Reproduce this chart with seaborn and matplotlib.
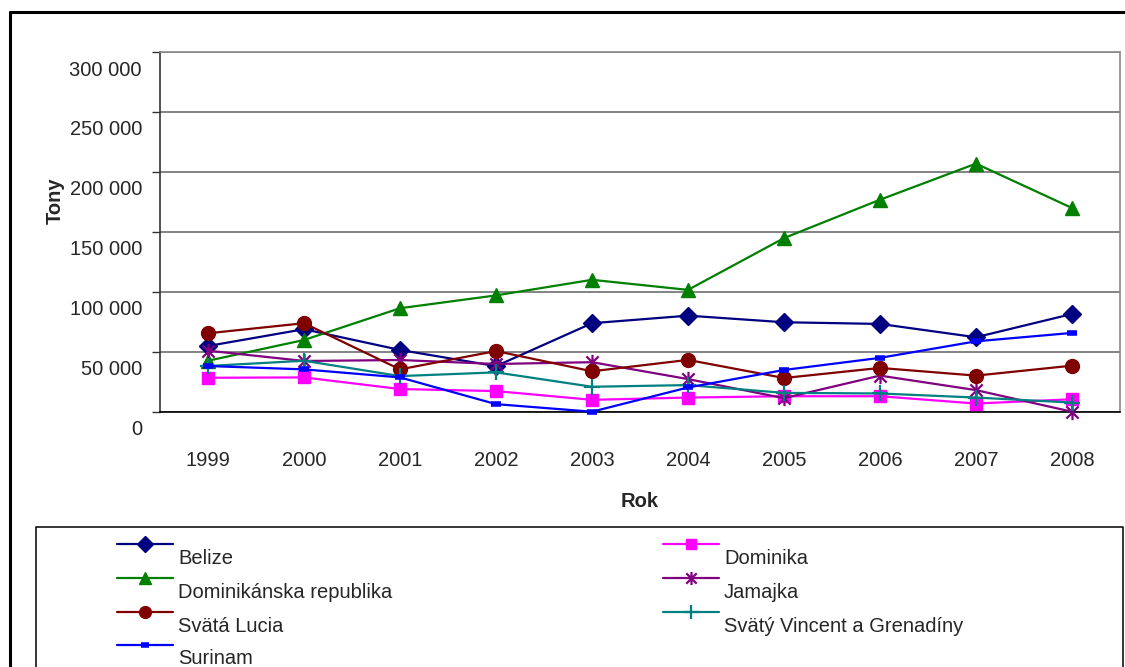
## Excel-style line chart: tonnage by country 1999-2008
import matplotlib
matplotlib.use("Agg")
import matplotlib.pyplot as plt
import matplotlib.transforms as mtransforms
from matplotlib.lines import Line2D
from matplotlib.path import Path
import pandas as pd
import seaborn as sns

# Data
years = ['1999', '2000', '2001', '2002', '2003', '2004', '2005', '2006', '2007', '2008']
belize = [54800, 68800, 51500, 38000, 73800, 80100, 74600, 73200, 62100, 81500]
dominika = [28300, 28600, 18900, 17200, 9900, 11800, 12900, 12900, 6800, 10400]
dom_rep = [42500, 59800, 86300, 97000, 110000, 101600, 144800, 176800, 206900, 169900]
jamajka = [50900, 42300, 43100, 39800, 41300, 27200, 11300, 30100, 18000, 0]
lucia = [65400, 73800, 35300, 50600, 33700, 43200, 28100, 36500, 30100, 38400]
vincent = [38100, 42500, 29700, 32800, 20800, 22200, 15700, 15200, 11800, 7600]
surinam = [38100, 35300, 28600, 6300, 0, 20200, 34800, 44900, 58700, 65700]

names = ['Belize', 'Dominika', 'Dominikánska republika', 'Jamajka',
         'Svätá Lucia', 'Svätý Vincent a Grenadíny', 'Surinam']
values = [belize, dominika, dom_rep, jamajka, lucia, vincent, surinam]

y_ticks = [0, 50000, 100000, 150000, 200000, 250000, 300000]
y_labels = ['0', '50 000', '100 000', '150 000', '200 000', '250 000', '300 000']

rows = []
for name, vals in zip(names, values):
    for i, (yr, v) in enumerate(zip(years, vals)):
        rows.append({'country': name, 'pos': i, 'year': yr, 'value': v})
df = pd.DataFrame(rows)

# asterisk marker like Excel's star (vertical bar + X)
star = Path([(0, -1), (0, 1), (-0.8, -0.8), (0.8, 0.8), (-0.8, 0.8), (0.8, -0.8)],
            [Path.MOVETO, Path.LINETO, Path.MOVETO, Path.LINETO, Path.MOVETO, Path.LINETO])

styles = {
    'Belize': dict(color='#000080', marker='D', ms=9, mew=1),
    'Dominika': dict(color='#FF00FF', marker='s', ms=9, mew=1),
    'Dominikánska republika': dict(color='#008000', marker='^', ms=9.5, mew=1),
    'Jamajka': dict(color='#800080', marker=star, ms=11, mew=1.6),
    'Svätá Lucia': dict(color='#800000', marker='o', ms=10, mew=1),
    'Svätý Vincent a Grenadíny': dict(color='#008080', marker='+', ms=12, mew=1.6),
    'Surinam': dict(color='#0000FF', marker='_', ms=7, mew=4),
}

sns.set_style("white")
plt.rcParams['font.family'] = ['Liberation Sans', 'DejaVu Sans']

fig = plt.figure(figsize=(11.25, 6.67), dpi=100)
ax = fig.add_axes([160 / 1125, 1 - 411.7 / 667, 960 / 1125, 359.7 / 667])

for name in names:
    st = styles[name]
    sub = df[df['country'] == name]
    mfc = 'none' if name in ('Jamajka', 'Svätý Vincent a Grenadíny') else st['color']
    sns.lineplot(data=sub, x='pos', y='value', ax=ax, color=st['color'], lw=1.6,
                 marker=st['marker'], markersize=st['ms'], markeredgewidth=st['mew'],
                 markeredgecolor=st['color'], markerfacecolor=mfc, clip_on=False,
                 legend=False, zorder=3)

ax.set_xlim(-0.5, len(years) - 0.5)
ax.set_ylim(0, 300000)
ax.set_yticks(y_ticks)
ax.set_yticklabels(y_labels, fontsize=14.5)
ax.set_xticks(range(len(years)))
ax.set_xticklabels(years, fontsize=14.5)
ax.set_xticks([i - 0.5 for i in range(len(years) + 1)], minor=True)
ax.tick_params(axis='x', which='major', length=0, pad=28)
ax.tick_params(axis='x', which='minor', length=6, width=1, color='black', direction='out')
ax.tick_params(axis='y', length=6, width=1, color='#333333', direction='out', pad=7, left=True)

# Excel puts the value labels a bit below their gridlines
offset = mtransforms.ScaledTranslation(0, -16 / 100, fig.dpi_scale_trans)
for lab in ax.get_yticklabels():
    lab.set_transform(lab.get_transform() + offset)

ax.yaxis.grid(True, color='#6e6e6e', lw=1.2)
ax.set_axisbelow(True)
for side in ['top', 'right']:
    ax.spines[side].set_color('#8a8a8a')
    ax.spines[side].set_linewidth(1.2)
ax.spines['left'].set_color('#333333')
ax.spines['bottom'].set_color('black')
ax.spines['left'].set_linewidth(1.2)
ax.spines['bottom'].set_linewidth(1.2)

ax.set_xlabel('Rok', fontsize=14.5, fontweight='bold')
ax.xaxis.set_label_coords(0.5, (411.7 - 492) / 359.7)
ax.set_ylabel('')
fig.text(55 / 1125, 1 - 201 / 667, 'Tony', rotation=90, fontsize=14.5, fontweight='bold',
         ha='center', va='center')

# outer chart border
fig.add_artist(Line2D([10 / 1125, 10 / 1125], [1 - 12 / 667, -0.05], color='black', lw=2.2,
                      transform=fig.transFigure))
fig.add_artist(Line2D([10 / 1125, 1.05], [1 - 12 / 667, 1 - 12 / 667], color='black', lw=2.2,
                      transform=fig.transFigure))

# legend box (Excel style, text below the sample line)
fig.add_artist(Line2D([36 / 1125, 36 / 1125, 1123 / 1125, 1123 / 1125],
                      [-0.05, 1 - 527 / 667, 1 - 527 / 667, -0.05],
                      color='black', lw=1.1, transform=fig.transFigure))
col_x = [117, 663]
row_y = [544, 578, 612, 645]
for k, name in enumerate(names):
    st = styles[name]
    cx = col_x[k % 2]
    ry = row_y[k // 2]
    mfc = 'none' if name in ('Jamajka', 'Svätý Vincent a Grenadíny') else st['color']
    fig.add_artist(Line2D([cx / 1125, (cx + 56) / 1125], [1 - ry / 667, 1 - ry / 667],
                          color=st['color'], lw=1.6, transform=fig.transFigure))
    fig.add_artist(Line2D([(cx + 28) / 1125], [1 - ry / 667], color=st['color'],
                          marker=st['marker'], markersize=st['ms'] * 0.85,
                          markeredgewidth=st['mew'], markeredgecolor=st['color'],
                          markerfacecolor=mfc, transform=fig.transFigure))
    fig.text((cx + 61) / 1125, 1 - (ry + 14) / 667, name, fontsize=14.5,
             ha='left', va='center')

fig.savefig('out.png', dpi=100)
